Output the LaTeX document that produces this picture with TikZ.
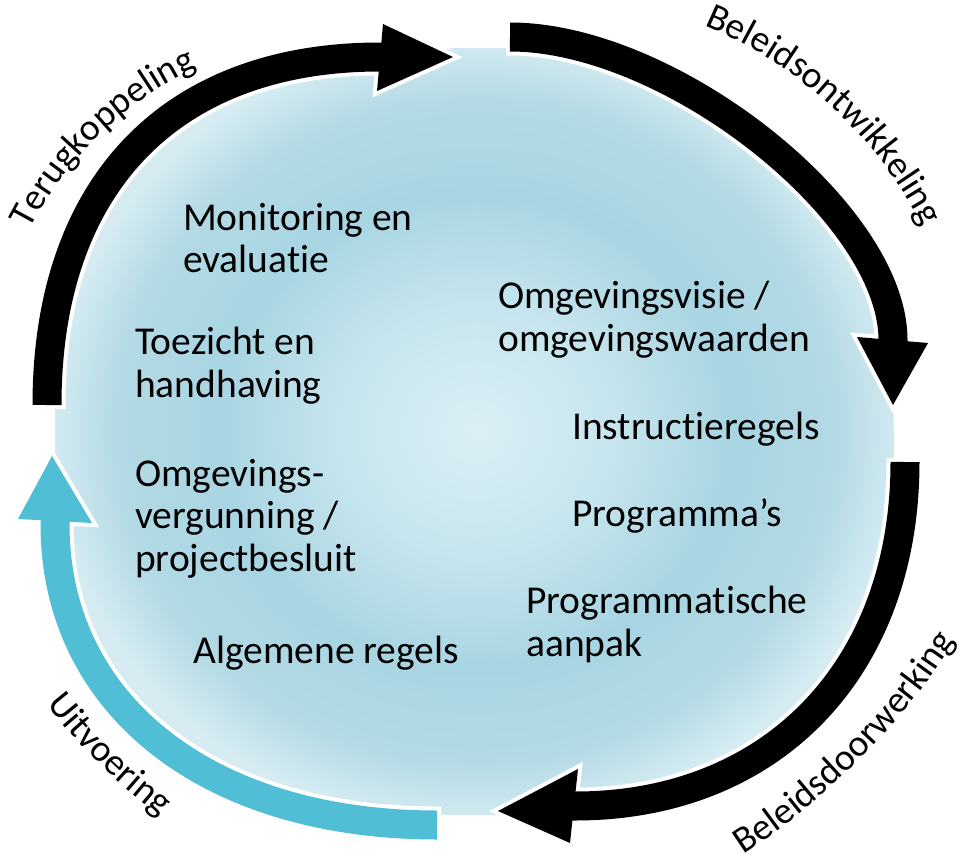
\documentclass[tikz,border=0pt]{standalone}
\usepackage{fontspec}
\setmainfont{Carlito}[Ligatures=NoCommon]
\usetikzlibrary{decorations.text,calc}
\definecolor{bgA}{HTML}{DAEFF5}
\definecolor{bgB}{HTML}{C6E5EE}
\definecolor{bgC}{HTML}{A8D5E2}
\definecolor{bgD}{HTML}{B3DAE5}
\definecolor{bgE}{HTML}{D6ECF2}
\definecolor{arrowblue}{RGB}{80,190,212}
\pgfdeclareradialshading{bgshade}{\pgfpoint{0bp}{0bp}}{color(0bp)=(bgA); color(8bp)=(bgB); color(15bp)=(bgC); color(21bp)=(bgD); color(25bp)=(bgE); color(50bp)=(bgE)}
\tikzset{
  outline/.style={white, line width=37pt},
  headoutline/.style={draw=white, fill=white, line width=8pt, line join=miter},
  shaft/.style={line width=29pt},
  bodytext/.style={font=\fontsize{39.5}{42.5}\selectfont, align=left, anchor=base west, inner sep=0pt},
  arclabel/.style={decorate, decoration={text along path, text align=center, text={|\fontsize{37.5}{40}\selectfont|#1}}},
}
\begin{document}
\begin{tikzpicture}[x=1pt,y=-1pt]
\useasboundingbox (0,0) rectangle (980,862);
% background disc
\shade[shading=bgshade]
  (47,405) .. controls (47,186) and (170,57) .. (380,57) -- (455,48) -- (510,48) -- (510,37)
  .. controls (671,37) and (893,213) .. (893,340) -- (894,462) -- (905,462)
  .. controls (905,668) and (773,806) .. (575,806) -- (500,815) -- (440,815) -- (437,825)
  .. controls (208,825) and (55,705) .. (55,524) -- (55,405) -- cycle;
% white outlines
\draw[outline] (47,409) -- (47,405) .. controls (47,186) and (170,57) .. (380,57) -- (384,57);
\draw[headoutline] (383,24) -- (453,57) -- (377,91) -- cycle;
\draw[outline] (506,37) -- (510,37) .. controls (671,37) and (893,213) .. (893,340) -- (893,344);
\draw[headoutline] (857,337) -- (893,405) -- (928,343) -- cycle;
\draw[outline] (905,458) -- (905,462) .. controls (905,668) and (773,806) .. (575,806) -- (571,806);
\draw[headoutline] (578,769) -- (498,811) -- (570,843) -- cycle;
\draw[outline] (441,825) -- (437,825) .. controls (208,825) and (55,705) .. (55,524) -- (55,520);
\draw[headoutline] (18,519) -- (52,456) -- (92,523) -- cycle;
% arrow bodies
\draw[shaft, black] (47,405) .. controls (47,186) and (170,57) .. (380,57) -- (384,57);
\fill[black] (383,24) -- (453,57) -- (377,91) -- cycle;
\draw[shaft, black] (510,37) .. controls (671,37) and (893,213) .. (893,340) -- (893,344);
\fill[black] (857,337) -- (893,405) -- (928,343) -- cycle;
\draw[shaft, black] (905,462) .. controls (905,668) and (773,806) .. (575,806) -- (571,806);
\fill[black] (578,769) -- (498,811) -- (570,843) -- cycle;
\draw[shaft, arrowblue] (437,825) .. controls (208,825) and (55,705) .. (55,524) -- (55,520);
\fill[arrowblue] (18,519) -- (52,456) -- (92,523) -- cycle;
% curved labels
\path[arclabel=Terugkoppeling] ($(349,391.8)+(-164.1:358)$) arc[start angle=-164.1, end angle=-104.1, radius=358];
\path[arclabel=Beleidsontwikkeling] ($(538,425)+(-87.3:433)$) arc[start angle=-87.3, end angle=-7.3, radius=433];
\path[arclabel=Beleidsdoorwerking] ($(352.5,254.4)+(74.8:716)$) arc[start angle=74.8, end angle=14.8, radius=716];
\path[arclabel=Uitvoering] ($(538,320)+(164.6:624)$) arc[start angle=164.6, end angle=104.6, radius=624];
% body texts (anchored at the baseline of the last line)
\node[bodytext] (monitor) at (183,272.5) {Monitoring en\\evaluatie};
\node[bodytext] (toezicht) at (135,397) {Toezicht en\\handhaving};
\node[bodytext] (vergunning) at (135,571) {Omgevings-\\vergunning /\\projectbesluit};
\node[bodytext] (algemeen) at (193,663) {Algemene regels};
\node[bodytext] (visie) at (498,351) {Omgevingsvisie /\\omgevingswaarden};
\node[bodytext] (instructie) at (572,439) {Instructieregels};
\node[bodytext] (programma) at (572,526) {Programma’s};
\node[bodytext] (aanpak) at (526,656) {Programmatische\\aanpak};
\end{tikzpicture}
\end{document}
